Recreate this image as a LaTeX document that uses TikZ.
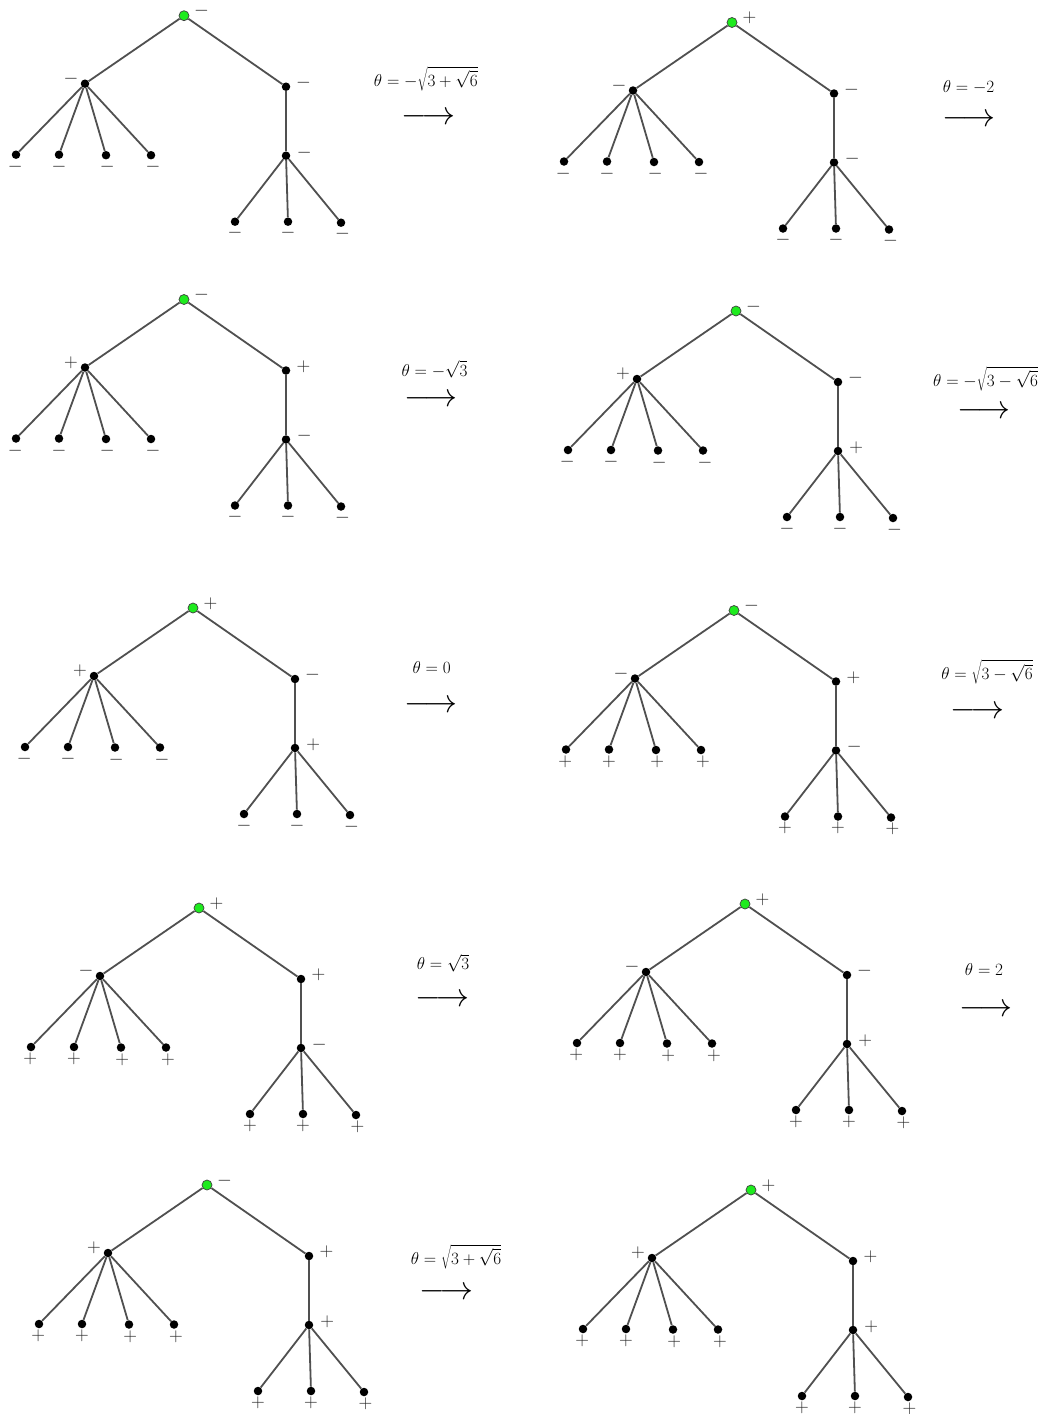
\RequirePackage{fix-cm}
\documentclass[tikz,border=0pt]{standalone}
\definecolor{edgegray}{RGB}{80,80,80}
\definecolor{rootgreen}{RGB}{30,235,30}
\tikzset{
  dotnode/.style={circle,fill=black,inner sep=0pt,minimum size=8.5pt},
  rootnode/.style={circle,fill=rootgreen,draw=black!75,line width=0.7pt,inner sep=0pt,minimum size=10pt},
  edge/.style={draw=edgegray,line width=1.8pt},
  sgn/.style={inner sep=0pt,text=black!85,font=\fontsize{19}{22}\selectfont},
  thlabel/.style={inner sep=0pt,anchor=base,font=\fontsize{17.2}{20}\selectfont},
  bigarrow/.style={inner sep=0pt,anchor=base,font=\fontsize{33}{36}\selectfont}
}
% #1 prefix, #2 x, #3 y, #4 root, #5 L, #6 R, #7 M, #8 left leaves, #9 right leaves
\newcommand\drawtree[9]{%
\begin{scope}[shift={(#2,#3)}]
  \node[rootnode] (#1r) at (0,0) {};
  \node[dotnode] (#1L) at (-99,68) {};
  \node[dotnode] (#1R) at (102,71) {};
  \node[dotnode] (#1M) at (102,140) {};
  \node[dotnode] (#1a1) at (-168,139) {};
  \node[dotnode] (#1a2) at (-125,139) {};
  \node[dotnode] (#1a3) at (-78,139.5) {};
  \node[dotnode] (#1a4) at (-33,139.5) {};
  \node[dotnode] (#1b1) at (51,206) {};
  \node[dotnode] (#1b2) at (104,206) {};
  \node[dotnode] (#1b3) at (157,207) {};
  \draw[edge] (#1r) -- (#1L);
  \draw[edge] (#1r) -- (#1R);
  \draw[edge] (#1R) -- (#1M);
  \draw[edge] (#1L) -- (#1a1);
  \draw[edge] (#1L) -- (#1a2);
  \draw[edge] (#1L) -- (#1a3);
  \draw[edge] (#1L) -- (#1a4);
  \draw[edge] (#1M) -- (#1b1);
  \draw[edge] (#1M) -- (#1b2);
  \draw[edge] (#1M) -- (#1b3);
  \node[sgn] (#1rs) at (17.5,-4.5) {$#4$};
  \node[sgn] (#1Ls) at (-113,63.2) {$#5$};
  \node[sgn] (#1Rs) at (119.5,67.2) {$#6$};
  \node[sgn] (#1Ms) at (120.3,136.7) {$#7$};
  \node[sgn] (#1a1s) at (-168.8,150.8) {$#8$};
  \node[sgn] (#1a2s) at (-125,151) {$#8$};
  \node[sgn] (#1a3s) at (-76.8,151.5) {$#8$};
  \node[sgn] (#1a4s) at (-31,151.5) {$#8$};
  \node[sgn] (#1b1s) at (51,217.5) {$#9$};
  \node[sgn] (#1b2s) at (104,217.5) {$#9$};
  \node[sgn] (#1b3s) at (158.5,218.5) {$#9$};
\end{scope}}
\begin{document}
\begin{tikzpicture}[x=1pt,y=-1pt]
\useasboundingbox[fill=white] (0,0) rectangle (1039,1414);
\drawtree{t1}{184}{15.7}{-}{-}{-}{-}{-}{-}
\drawtree{t2}{732}{22.5}{+}{-}{-}{-}{-}{-}
\drawtree{t3}{184}{299.5}{-}{+}{+}{-}{-}{-}
\drawtree{t4}{736}{311}{-}{+}{-}{+}{-}{-}
\drawtree{t5}{193}{608}{+}{+}{-}{+}{-}{-}
\drawtree{t6}{734}{610.5}{-}{-}{+}{-}{+}{+}
\drawtree{t7}{199}{908}{+}{-}{+}{-}{+}{+}
\drawtree{t8}{745}{904}{+}{-}{-}{+}{+}{+}
\drawtree{t9}{207}{1185}{-}{+}{+}{+}{+}{+}
\drawtree{t10}{751}{1190}{+}{+}{+}{+}{+}{+}
% transitions
\node[thlabel] (l1) at (425.8,86) {$\theta=-\sqrt{3+\sqrt{6}}$};
\node[bigarrow] (r1) at (428.5,124.9) {$\longrightarrow$};
\node[thlabel] (l2) at (968.5,92.7) {$\theta=-2$};
\node[bigarrow] (r2) at (969,126.5) {$\longrightarrow$};
\node[thlabel] (l3) at (434.5,376) {$\theta=-\sqrt{3}$};
\node[bigarrow] (r3) at (431,406.5) {$\longrightarrow$};
\node[thlabel] (l4) at (985.6,386) {$\theta=-\sqrt{3-\sqrt{6}}$};
\node[bigarrow] (r4) at (984,418.2) {$\longrightarrow$};
\node[thlabel] (l5) at (431.7,673) {$\theta=0$};
\node[bigarrow] (r5) at (431,712.2) {$\longrightarrow$};
\node[thlabel] (l6) at (987,679.3) {$\theta=\sqrt{3-\sqrt{6}}$};
\node[bigarrow] (r6) at (977.5,718.9) {$\longrightarrow$};
\node[thlabel] (l7) at (443,969.3) {$\theta=\sqrt{3}$};
\node[bigarrow] (r7) at (442.5,1006.5) {$\longrightarrow$};
\node[thlabel] (l8) at (984,975) {$\theta=2$};
\node[bigarrow] (r8) at (986,1016.2) {$\longrightarrow$};
\node[thlabel] (l9) at (456,1264) {$\theta=\sqrt{3+\sqrt{6}}$};
\node[bigarrow] (r9) at (446.5,1299.9) {$\longrightarrow$};
\end{tikzpicture}
\end{document}
